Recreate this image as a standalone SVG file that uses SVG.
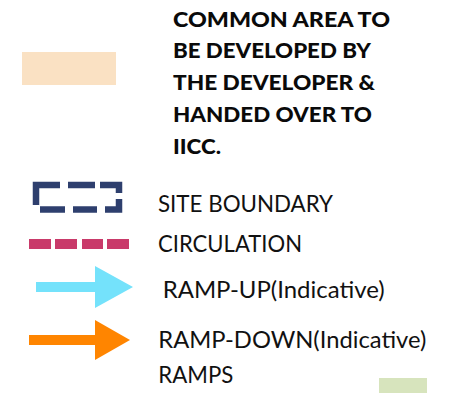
<svg xmlns="http://www.w3.org/2000/svg" width="452" height="393" viewBox="0 0 452 393">
<style>
.b{font-family:Lato,"Open Sans","Liberation Sans",sans-serif;font-weight:900;font-size:21.5px;fill:#0a0a0a}
.r{font-family:Lato,"Open Sans","Liberation Sans",sans-serif;font-size:23px;fill:#111}
.sb{fill:none;stroke:#2E3F6E;stroke-width:6.5;stroke-linejoin:miter;stroke-linecap:butt}
.ci{fill:#C93A6A}
</style>
<rect width="452" height="393" fill="#fff"/>
<g id="common-area">
<rect x="22" y="52" width="94" height="33" fill="#FAE1C3"/>
<text class="b" x="173" y="26.5" textLength="217" lengthAdjust="spacingAndGlyphs">COMMON AREA TO</text>
<text class="b" x="173" y="58.3" textLength="198" lengthAdjust="spacingAndGlyphs">BE DEVELOPED BY</text>
<text class="b" x="173" y="90.1" textLength="202" lengthAdjust="spacingAndGlyphs">THE DEVELOPER &amp;</text>
<text class="b" x="173" y="121.9" textLength="199" lengthAdjust="spacingAndGlyphs">HANDED OVER TO</text>
<text class="b" x="173" y="153.7" textLength="48" lengthAdjust="spacingAndGlyphs">IICC.</text>
</g>
<g id="site-boundary">
<path class="sb" d="M60,185 H36 V205"/>
<path class="sb" d="M68,185 H95"/>
<path class="sb" d="M100,185 H119 V193"/>
<path class="sb" d="M119,199 V209.5 H105"/>
<path class="sb" d="M97,209.5 H73"/>
<path class="sb" d="M65,209.5 H40"/>
<text class="r" x="158" y="211.7" textLength="175" lengthAdjust="spacingAndGlyphs">SITE BOUNDARY</text>
</g>
<g id="circulation">
<rect class="ci" x="29" y="239" width="22" height="10"/>
<rect class="ci" x="55" y="239" width="22" height="10"/>
<rect class="ci" x="82" y="239" width="21" height="10"/>
<rect class="ci" x="107" y="239" width="22" height="10"/>
<text class="r" x="158" y="251.5" textLength="144" lengthAdjust="spacingAndGlyphs">CIRCULATION</text>
</g>
<g id="ramp-up">
<polygon fill="#74E2FB" points="36,282 95,282 95,266 133,287 95,308 95,292 36,292"/>
<text class="r" x="162.7" y="298.3" textLength="222" lengthAdjust="spacingAndGlyphs">RAMP-UP(Indicative)</text>
</g>
<g id="ramp-down">
<polygon fill="#FF8500" points="29,335 95,335 95,320 130,340 95,360 95,345 29,345"/>
<text class="r" x="158.3" y="348.3" textLength="268" lengthAdjust="spacingAndGlyphs">RAMP-DOWN(Indicative)</text>
</g>
<g id="ramps">
<text class="r" x="158.3" y="383.3" textLength="75" lengthAdjust="spacingAndGlyphs">RAMPS</text>
<rect x="379" y="378" width="48" height="15" fill="#D7E4BD"/>
</g>
</svg>
